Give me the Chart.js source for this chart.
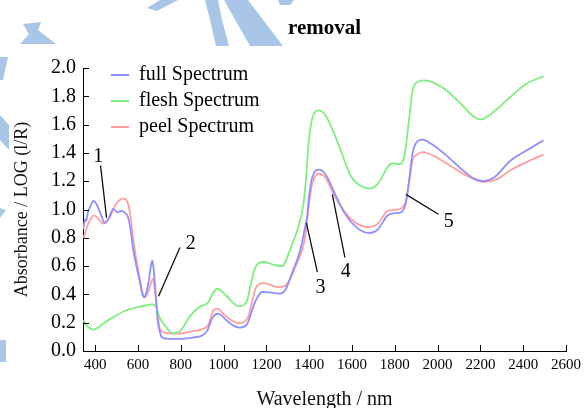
<!DOCTYPE html>
<html>
<head>
<meta charset="utf-8">
<script src="https://cdn.jsdelivr.net/npm/chart.js@4.4.1/dist/chart.umd.min.js"></script>
<style>
  body { margin: 0; background: #fff; }
  #wrap { width: 586px; height: 408px; }
</style>
</head>
<body>
<div id="wrap"><canvas id="spectra" width="586" height="408"></canvas></div>
<script>
// spectra (wavelength nm / absorbance)
const fullNm = [344, 348, 353, 358, 366, 380, 391, 405, 425, 445, 464, 484, 502, 523, 540, 553, 566, 576, 591, 607, 619, 627, 636, 651, 660, 667, 673, 682, 692, 700, 710, 731, 793, 855, 900, 924, 948, 974, 1010, 1040, 1071, 1110, 1127, 1141, 1158, 1180, 1215, 1257, 1288, 1319, 1358, 1378, 1390, 1400, 1413, 1443, 1474, 1520, 1567, 1628, 1683, 1721, 1767, 1800, 1829, 1852, 1868, 1883, 1899, 1930, 1968, 2031, 2108, 2170, 2216, 2263, 2340, 2417, 2495];
const fullAbs = [0.86, 0.90, 0.93, 0.92, 0.98, 1.03, 1.06, 1.04, 0.97, 0.905, 0.94, 1.005, 0.98, 0.99, 0.975, 0.947, 0.85, 0.735, 0.61, 0.50, 0.41, 0.38, 0.40, 0.50, 0.60, 0.64, 0.58, 0.41, 0.217, 0.15, 0.10, 0.087, 0.085, 0.095, 0.11, 0.146, 0.236, 0.264, 0.222, 0.185, 0.165, 0.19, 0.26, 0.323, 0.38, 0.417, 0.415, 0.405, 0.43, 0.547, 0.712, 0.853, 0.95, 1.10, 1.22, 1.282, 1.254, 1.112, 0.971, 0.865, 0.834, 0.86, 0.959, 0.975, 0.98, 1.05, 1.22, 1.40, 1.47, 1.494, 1.466, 1.395, 1.29, 1.218, 1.201, 1.226, 1.345, 1.418, 1.489];

const fleshNm = [344, 366, 391, 413, 437, 499, 546, 623, 669, 685, 700, 731, 762, 784, 800, 840, 886, 929, 948, 971, 1010, 1071, 1110, 1127, 1149, 1187, 1242, 1272, 1319, 1350, 1373, 1387, 1396, 1406, 1419, 1446, 1481, 1535, 1597, 1644, 1683, 1721, 1767, 1790, 1820, 1845, 1868, 1883, 1906, 1938, 2031, 2108, 2170, 2203, 2246, 2340, 2417, 2495];
const fleshAbs = [0.217, 0.17, 0.151, 0.165, 0.194, 0.252, 0.288, 0.318, 0.33, 0.31, 0.24, 0.17, 0.127, 0.132, 0.146, 0.24, 0.311, 0.346, 0.405, 0.44, 0.394, 0.316, 0.36, 0.47, 0.594, 0.629, 0.606, 0.599, 0.75, 0.88, 1.04, 1.25, 1.45, 1.58, 1.666, 1.70, 1.654, 1.466, 1.23, 1.164, 1.148, 1.183, 1.30, 1.327, 1.32, 1.38, 1.654, 1.842, 1.90, 1.913, 1.854, 1.748, 1.654, 1.637, 1.672, 1.795, 1.89, 1.941];

const peelNm = [344, 368, 395, 417, 437, 468, 499, 533, 553, 566, 576, 607, 631, 651, 669, 677, 685, 700, 716, 747, 793, 855, 924, 937, 949, 971, 997, 1025, 1071, 1115, 1132, 1149, 1187, 1257, 1288, 1335, 1381, 1396, 1412, 1426, 1443, 1474, 1517, 1567, 1628, 1683, 1721, 1767, 1814, 1832, 1852, 1868, 1883, 1906, 1930, 2031, 2123, 2216, 2278, 2340, 2495];
const peelAbs = [0.794, 0.90, 0.959, 0.93, 0.90, 0.947, 1.042, 1.077, 1.042, 0.94, 0.806, 0.523, 0.377, 0.43, 0.512, 0.45, 0.35, 0.17, 0.134, 0.125, 0.123, 0.141, 0.175, 0.22, 0.28, 0.30, 0.265, 0.229, 0.198, 0.24, 0.34, 0.441, 0.48, 0.452, 0.46, 0.594, 0.806, 1.0, 1.17, 1.23, 1.254, 1.23, 1.10, 0.982, 0.895, 0.876, 0.90, 0.99, 1.0, 1.01, 1.06, 1.2, 1.348, 1.39, 1.406, 1.336, 1.25, 1.194, 1.215, 1.277, 1.39];

const xTicks = [400, 600, 800, 1000, 1200, 1400, 1600, 1800, 2000, 2200, 2400, 2600];
const yTicks = [0, 0.2, 0.4, 0.6, 0.8, 1.0, 1.2, 1.4, 1.6, 1.8, 2.0];

// numbered callouts: label position and leader line, in data units
const markLabels = ['1', '2', '3', '4', '5'];
const markTextNm = [414, 847, 1453, 1571, 2052];
const markTextAbs = [1.37, 0.76, 0.448, 0.558, 0.912];
const markFromNm = [425, 796, 1387, 1508, 1852];
const markFromAbs = [1.31, 0.731, 0.905, 1.107, 1.107];
const markToNm = [453, 696, 1438, 1567, 2004];
const markToAbs = [0.943, 0.387, 0.558, 0.66, 0.966];

const serif = "'Liberation Serif', 'Times New Roman', serif";
Chart.defaults.font.family = serif;
Chart.defaults.color = '#000';

function toPoints(xs, ys) {
    return xs.map((x, i) => ({ x: x, y: ys[i] }));
}

// white page plus the pale blue watermark pieces around the edges
const backdrop = {
    id: 'backdrop',
    beforeDraw(chart) {
        const c = chart.ctx;
        c.save();
        c.fillStyle = '#fff';
        c.fillRect(0, 0, chart.width, chart.height);
        c.fillStyle = '#a9c5e8';
        const shapes = [
            [[160, 0], [178, 0], [157, 11], [147, 8]],
            [[205, 0], [218, 0], [222, 20], [229, 46], [216, 46], [210, 20]],
            [[224, 0], [248, 0], [283, 46], [250, 46]],
            [[278, 0], [294, 0], [290, 5], [280, 5]],
            [[23, 24], [41, 22], [38, 30], [56, 44], [20, 44], [29, 34]],
            [[0, 57], [8, 57], [3, 80], [0, 80]],
            [[0, 115], [9, 125], [9, 150], [0, 140]],
            [[0, 208], [6, 210], [0, 218]],
            [[0, 340], [6, 340], [6, 362], [0, 362]]
        ];
        shapes.forEach(s => {
            c.beginPath();
            s.forEach((p, i) => i ? c.lineTo(p[0], p[1]) : c.moveTo(p[0], p[1]));
            c.closePath();
            c.fill();
        });
        c.restore();
        // legend sits inside the plot, top left
        if (chart.legend) {
            chart.legend.left = chart.chartArea.left + 22;
            chart.legend.top = chart.chartArea.top - 9;
        }
    }
};

// inward tick marks and the numbered callouts
const extras = {
    id: 'extras',
    afterDatasetsDraw(chart) {
        const c = chart.ctx;
        const xs = chart.scales.x, ys = chart.scales.y;
        const area = chart.chartArea;
        c.save();
        c.strokeStyle = '#000';
        c.lineWidth = 1;
        c.beginPath();
        xTicks.forEach(v => {
            const px = Math.round(xs.getPixelForValue(v)) + 0.5;
            c.moveTo(px, area.bottom);
            c.lineTo(px, area.bottom - 6);
        });
        yTicks.forEach(v => {
            const py = Math.round(ys.getPixelForValue(v)) + 0.5;
            c.moveTo(area.left, py);
            c.lineTo(area.left + 6, py);
        });
        c.stroke();

        c.strokeStyle = '#111';
        c.lineWidth = 1.3;
        c.beginPath();
        markLabels.forEach((t, i) => {
            c.moveTo(xs.getPixelForValue(markFromNm[i]), ys.getPixelForValue(markFromAbs[i]));
            c.lineTo(xs.getPixelForValue(markToNm[i]), ys.getPixelForValue(markToAbs[i]));
        });
        c.stroke();

        c.fillStyle = '#000';
        c.font = '20px ' + serif;
        c.textAlign = 'center';
        c.textBaseline = 'middle';
        markLabels.forEach((t, i) => {
            c.fillText(t, xs.getPixelForValue(markTextNm[i]), ys.getPixelForValue(markTextAbs[i]));
        });
        c.restore();
    }
};

const lineStyle = {
    borderWidth: 1.8,
    pointRadius: 0,
    fill: false,
    cubicInterpolationMode: 'monotone'
};

new Chart(document.getElementById('spectra'), {
    type: 'line',
    data: {
        datasets: [
            Object.assign({ label: 'full Spectrum', data: toPoints(fullNm, fullAbs), borderColor: '#8f8fff', backgroundColor: '#8f8fff' }, lineStyle),
            Object.assign({ label: 'flesh Spectrum', data: toPoints(fleshNm, fleshAbs), borderColor: '#7eef7e', backgroundColor: '#7eef7e' }, lineStyle),
            Object.assign({ label: 'peel Spectrum', data: toPoints(peelNm, peelAbs), borderColor: '#ff9e9e', backgroundColor: '#ff9e9e' }, lineStyle)
        ]
    },
    options: {
        responsive: false,
        animation: false,
        layout: { padding: { left: 0, right: 17, top: 0, bottom: 0 } },
        plugins: {
            title: {
                display: true,
                text: 'removal',
                fullSize: false,
                color: '#000',
                font: { size: 21, weight: 'bold', family: serif, lineHeight: 1.2 },
                padding: { top: 16, bottom: 26.8 }
            },
            legend: {
                position: 'chartArea',
                align: 'start',
                labels: {
                    color: '#000',
                    font: { size: 20, family: serif },
                    boxWidth: 18,
                    boxHeight: 2,
                    padding: 6,
                    generateLabels(chart) {
                        return Chart.defaults.plugins.legend.labels.generateLabels(chart).map(item => {
                            item.fillStyle = item.strokeStyle;
                            item.lineWidth = 0;
                            return item;
                        });
                    }
                }
            },
            tooltip: { enabled: false }
        },
        scales: {
            x: {
                type: 'linear',
                min: 343,
                max: 2600,
                afterBuildTicks(scale) { scale.ticks = xTicks.map(v => ({ value: v })); },
                afterFit(scale) { scale.height = 57; },
                grid: { drawOnChartArea: false, drawTicks: false },
                border: { color: '#000', width: 1 },
                ticks: { color: '#000', font: { size: 15, family: serif }, padding: 5, maxRotation: 0, autoSkip: false, callback: v => String(v) },
                title: {
                    display: true,
                    text: 'Wavelength / nm',
                    color: '#111',
                    font: { size: 20, family: serif, lineHeight: 0.8 },
                    padding: { top: 0, bottom: 0 }
                }
            },
            y: {
                min: 0,
                max: 2,
                afterBuildTicks(scale) { scale.ticks = yTicks.map(v => ({ value: v })); },
                afterFit(scale) { scale.width = 83; },
                grid: { drawOnChartArea: false, drawTicks: false },
                border: { color: '#000', width: 1 },
                ticks: { color: '#000', font: { size: 20, family: serif }, padding: 7, callback: v => v.toFixed(1) },
                title: {
                    display: true,
                    text: 'Absorbance / LOG (l/R)',
                    color: '#111',
                    font: { size: 18, family: serif, lineHeight: 1.2 },
                    padding: { top: 11, bottom: 0 }
                }
            }
        }
    },
    plugins: [backdrop, extras]
});
</script>
</body>
</html>
